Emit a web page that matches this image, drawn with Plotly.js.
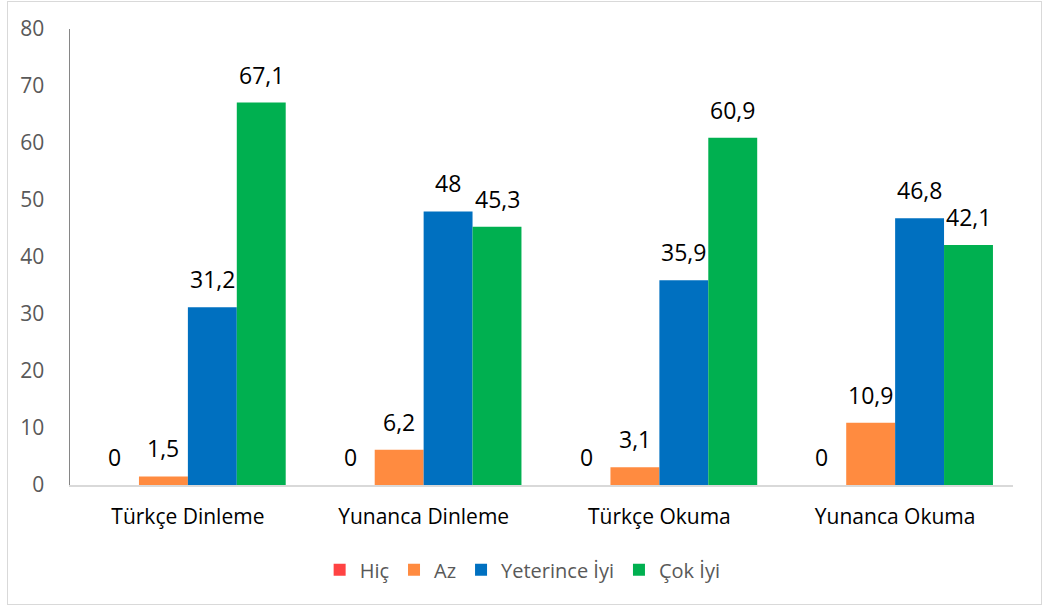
<!DOCTYPE html>
<html>
<head>
<meta charset="utf-8">
<script src="https://cdn.plot.ly/plotly-3.0.1.min.js"></script>
<style>
  html, body { margin: 0; padding: 0; background: #fff; }
  #wrap { position: relative; width: 1047px; height: 610px; }
  #chart { width: 1047px; height: 610px; }
  #frame { position: absolute; left: 7px; top: 1px; width: 1033px; height: 602px;
           border: 1px solid #d9d9d9; pointer-events: none; }
</style>
</head>
<body>
<div id="wrap"><div id="chart"></div><div id="frame"></div></div>
<script>
const categories = ["Türkçe Dinleme", "Yunanca Dinleme", "Türkçe Okuma", "Yunanca Okuma"];
const seriesNames = ["Hiç", "Az", "Yeterince İyi", "Çok İyi"];
const hic = [0, 0, 0, 0];
const az = [1.5, 6.2, 3.1, 10.9];
const yeterince = [31.2, 48, 35.9, 46.8];
const cokIyi = [67.1, 45.3, 60.9, 42.1];
const yTicks = [0, 10, 20, 30, 40, 50, 60, 70, 80];

const colors = ["#FF4343", "#FF8B40", "#0070C0", "#00B050"];
const values = [hic, az, yeterince, cokIyi];
const FONT = "'Open Sans', Lato, sans-serif";

const margin = { l: 70, r: 34, t: 29, b: 125 };
const W = 1047, H = 610;
const bargap = 0.17;
const plotW = W - margin.l - margin.r;
const barPx = plotW / categories.length * (1 - bargap) / values.length;

const traces = values.map((vals, i) => ({
  type: "bar",
  name: seriesNames[i],
  x: categories,
  y: vals,
  marker: { color: colors[i] },
  hoverinfo: "none"
}));

const annotations = [];
values.forEach((vals, i) => {
  vals.forEach((v, j) => {
    annotations.push({
      x: categories[j], y: v, xref: "x", yref: "y",
      text: String(v).replace(".", ","),
      showarrow: false,
      xanchor: "center", yanchor: "middle",
      xshift: (i - (values.length - 1) / 2) * barPx,
      yshift: 28,
      font: { family: FONT, size: 23, color: "#000000" }
    });
  });
});

const layout = {
  width: W, height: H,
  margin: margin,
  paper_bgcolor: "#ffffff", plot_bgcolor: "#ffffff",
  barmode: "group", bargap: bargap, bargroupgap: 0,
  showlegend: true,
  annotations: annotations,
  legend: {
    orientation: "h", x: 0.48, xanchor: "center", y: -0.186, yanchor: "middle",
    font: { family: FONT, size: 20, color: "#595959" },
    itemwidth: 30, traceorder: "normal"
  },
  xaxis: {
    showline: true, linecolor: "#d9d9d9", linewidth: 1.5,
    showgrid: false, zeroline: false, ticks: "",
    tickfont: { family: FONT, size: 21, color: "#000000" },
    ticklabelstandoff: 12
  },
  yaxis: {
    range: [0, 80], tickvals: yTicks, ticktext: yTicks.map(String),
    showline: true, linecolor: "#868686", linewidth: 1.5,
    showgrid: false, zeroline: false, ticks: "",
    tickfont: { family: FONT, size: 21, color: "#595959" },
    ticklabelstandoff: 20
  }
};

Plotly.newPlot("chart", traces, layout, { staticPlot: true, displayModeBar: false });
</script>
</body>
</html>
